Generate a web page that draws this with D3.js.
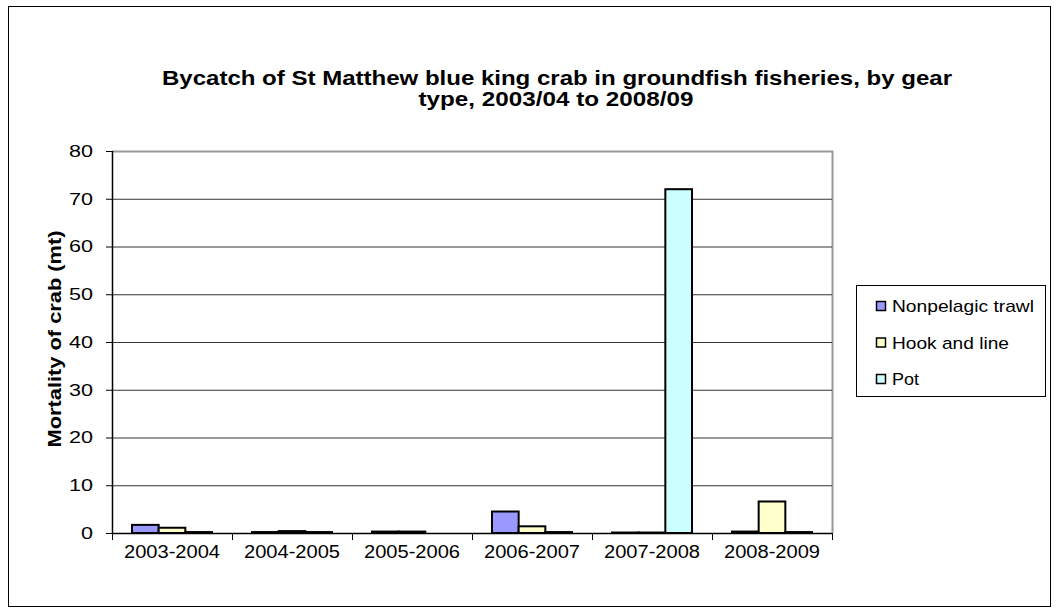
<!DOCTYPE html>
<html><head><meta charset="utf-8">
<script src="https://cdn.jsdelivr.net/npm/d3@7"></script>
<style>body{margin:0;background:#fff;}svg{display:block;font-family:"Liberation Sans",Arial,sans-serif;}</style>
</head><body><svg id="c" width="1058" height="608"></svg>
<script>
const categories = ["2003-2004","2004-2005","2005-2006","2006-2007","2007-2008","2008-2009"];
const seriesNames = ["Nonpelagic trawl","Hook and line","Pot"];
const nonpelagic = [1.7, 0.2, 0.3, 4.5, 0.1, 0.3];
const hookLine = [1.1, 0.4, 0.3, 1.4, 0.1, 6.6];
const pot = [0.2, 0.2, 0, 0.2, 72.0, 0.2];
const colors = ["#9999FF","#FFFFCC","#CCFFFF"];
const yTicks = [0,10,20,30,40,50,60,70,80];

const svg = d3.select("#c");
svg.append("rect").attr("x",8.5).attr("y",6.5).attr("width",1042).attr("height",600)
  .attr("fill","#fff").attr("stroke","#000").attr("stroke-width",1);

const L=112, R=832, T=151, B=533;
const x = d3.scaleBand().domain(categories).range([L,R]).paddingInner(0).paddingOuter(0);
const y = d3.scaleLinear().domain([0,80]).range([B,T]);
const inner = d3.scaleBand().domain(seriesNames).range([20,100]);

// plot border
svg.append("path").attr("d",`M${L},${T+0.5}H${R+0.5}V${B}`).attr("fill","none").attr("stroke","#999").attr("stroke-width",2);
// gridlines
svg.append("g").selectAll("line").data(yTicks.filter(d=>d>0&&d<80)).join("line")
  .attr("x1",L).attr("x2",R).attr("y1",d=>y(d)+0.5).attr("y2",d=>y(d)+0.5)
  .attr("stroke","#333").attr("stroke-width",1);

// bars
const data = [nonpelagic, hookLine, pot];
data.forEach((vals,si)=>{
  svg.append("g").selectAll("rect").data(vals.map((v,i)=>({v,c:categories[i]})).filter(d=>d.v>0)).join("rect")
    .attr("x",d=>x(d.c)+inner(seriesNames[si]))
    .attr("width",inner.bandwidth())
    .attr("y",d=>y(d.v))
    .attr("height",d=>B-y(d.v))
    .attr("fill",colors[si]).attr("stroke","#000").attr("stroke-width",2);
});

// y axis
const ya = svg.append("g").attr("transform",`translate(${L},0)`)
  .call(d3.axisLeft(y).tickValues(yTicks).tickSize(6).tickPadding(13).tickFormat(d3.format("d")));
ya.select(".domain").remove();
ya.selectAll("line").attr("stroke","#000");
ya.selectAll("text").attr("font-size",17).attr("fill","#000")
  .attr("textLength",d=>String(d).length*12).attr("lengthAdjust","spacingAndGlyphs")
  .style("font-family","Liberation Sans, Arial, sans-serif");
svg.append("line").attr("x1",L+0.5).attr("x2",L+0.5).attr("y1",T).attr("y2",B).attr("stroke","#000").attr("stroke-width",1.5);

// x axis
const xa = svg.append("g").attr("transform",`translate(0,${B})`)
  .call(d3.axisBottom(x).tickSize(0).tickPadding(12));
xa.select(".domain").remove();
xa.selectAll("text").attr("font-size",18).attr("fill","#000")
  .attr("textLength",96).attr("lengthAdjust","spacingAndGlyphs")
  .style("font-family","Liberation Sans, Arial, sans-serif");
svg.append("line").attr("x1",L).attr("x2",R).attr("y1",B+0.5).attr("y2",B+0.5).attr("stroke","#000").attr("stroke-width",1.5);
svg.append("g").selectAll("line").data(d3.range(categories.length+1)).join("line")
  .attr("x1",i=>L+i*x.step()+0.5).attr("x2",i=>L+i*x.step()+0.5).attr("y1",B).attr("y2",B+7)
  .attr("stroke","#000");

// y label
svg.append("text").attr("transform",`translate(61,339) rotate(-90)`)
  .attr("text-anchor","middle").attr("font-size",18).attr("font-weight","bold")
  .attr("textLength",217).attr("lengthAdjust","spacingAndGlyphs").text("Mortality of crab (mt)");

// title
const title = svg.append("text").attr("text-anchor","middle").attr("font-size",20).attr("font-weight","bold");
title.append("tspan").attr("x",557).attr("y",85).attr("textLength",790).attr("lengthAdjust","spacingAndGlyphs").text("Bycatch of St Matthew blue king crab in groundfish fisheries, by gear");
title.append("tspan").attr("x",556).attr("y",106).attr("textLength",275).attr("lengthAdjust","spacingAndGlyphs").text("type, 2003/04 to 2008/09");

// legend
svg.append("rect").attr("x",856.5).attr("y",285.5).attr("width",189).attr("height",111)
  .attr("fill","#fff").attr("stroke","#000");
const legendW = [142,117,27];
const lg = svg.append("g").selectAll("g").data(seriesNames).join("g")
  .attr("transform",(d,i)=>`translate(0,${306+i*36.5})`);
lg.append("rect").attr("x",876.5).attr("y",-4.5).attr("width",9).attr("height",9)
  .attr("fill",(d,i)=>colors[i]).attr("stroke","#000").attr("stroke-width",1.5);
lg.append("text").attr("x",892).attr("y",6).attr("font-size",17)
  .attr("textLength",(d,i)=>legendW[i]).attr("lengthAdjust","spacingAndGlyphs").text(d=>d);
</script></body></html>
